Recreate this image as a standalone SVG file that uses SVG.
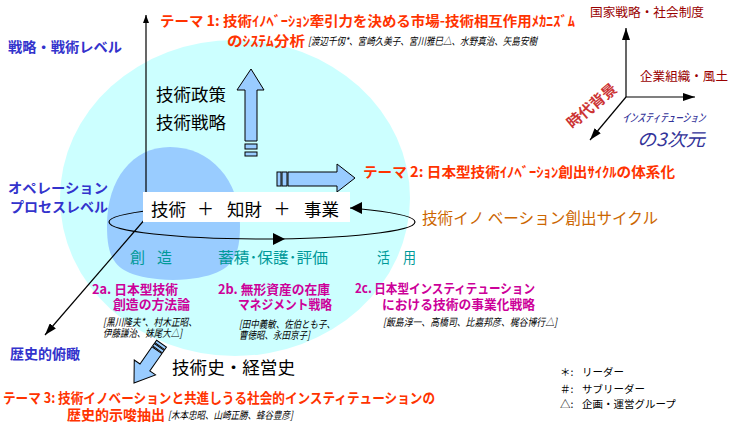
<svg xmlns="http://www.w3.org/2000/svg" width="733" height="431" viewBox="0 0 733 431">
<style>
text{font-family:"Noto Sans CJK JP","Noto Sans",sans-serif}
.red{fill:#FF3300;font-weight:bold;font-size:14px}
.mag{fill:#CC0099;font-size:13px;font-weight:bold}
.nm{fill:#000;font-size:10.5px;font-style:italic}
.teal{fill:#009999;font-size:15px}
.blu{fill:#3333CC;font-weight:bold;font-size:14px}
.dr{fill:#990000;font-size:12.5px}
.blk{fill:#000;font-size:17px}
.lg{fill:#000;font-size:10.5px}
.ln{stroke:#000;stroke-width:1.2;fill:none}
.barrow{fill:#99CCFF;stroke:#000;stroke-width:1}
</style>
<defs>
<marker id="ah" viewBox="0 0 12 8" refX="12" refY="4" markerWidth="12" markerHeight="8" orient="auto" markerUnits="userSpaceOnUse"><path d="M0,0 L12,4 L0,8 z" fill="#000"/></marker>
<marker id="ahs" viewBox="0 0 8 6" refX="8" refY="3" markerWidth="8" markerHeight="6" orient="auto" markerUnits="userSpaceOnUse"><path d="M0,0 L8,3 L0,6 z" fill="#000"/></marker>
</defs>
<rect width="733" height="431" fill="#fff"/>
<g id="background">
<ellipse cx="235" cy="198" rx="175" ry="158" fill="#CCFFFF"/>
<path d="M170 147 C210 147 240 180 240 225 C240 260 232 278 173 280 C115 278 107 262 107 225 C107 180 132 147 170 147 Z" fill="#99CCFF"/>
</g>
<g id="connectors">
<line class="ln" x1="146" y1="192" x2="146" y2="15" marker-end="url(#ahs)"/>
<line class="ln" x1="146" y1="218" x2="45" y2="335" stroke-width="1" marker-end="url(#ah)"/>
<ellipse class="ln" cx="262" cy="222" rx="153" ry="17"/>
<polygon points="350,208 362,202 362,214" fill="#000"/>
<polygon points="285,239 273,233 273,245" fill="#000"/>
<line class="ln" x1="626" y1="97" x2="626" y2="28" marker-end="url(#ah)"/>
<line class="ln" x1="626" y1="97" x2="695" y2="97" marker-end="url(#ah)"/>
<line class="ln" x1="626" y1="97" x2="590" y2="140" marker-end="url(#ah)"/>
</g>
<g id="arrow-up">
<polygon class="barrow" points="251,69 264,90 257,90 257,141 245,141 245,90 237,90"/>
<rect class="barrow" x="245" y="144" width="12" height="5"/>
<rect class="barrow" x="245" y="152" width="12" height="4"/>
</g>
<g id="arrow-right">
<polygon class="barrow" points="355,178 337,164 337,172 288,172 288,186 337,186 337,192"/>
<rect class="barrow" x="277" y="172" width="4" height="14"/>
<rect class="barrow" x="282" y="172" width="5" height="14"/>
</g>
<g id="arrow-history" transform="translate(134,383) rotate(35)">
<polygon class="barrow" points="0,0 13,-19 6,-19 6,-40 -6,-40 -6,-19 -13,-19"/>
<rect class="barrow" x="-6" y="-44" width="12" height="3"/>
<rect class="barrow" x="-6" y="-48" width="12" height="3"/>
</g>
<g id="core">
<rect x="143" y="192" width="207" height="30" fill="#fff"/>
<text class="blk" x="151" y="216" font-size="17.5" textLength="35" lengthAdjust="spacingAndGlyphs">技術</text>
<text class="blk" x="205.5" y="215" text-anchor="middle">＋</text>
<text class="blk" x="227" y="216" font-size="17.5" textLength="35" lengthAdjust="spacingAndGlyphs">知財</text>
<text class="blk" x="282" y="215" text-anchor="middle">＋</text>
<text class="blk" x="304" y="216" font-size="17.5" textLength="35" lengthAdjust="spacingAndGlyphs">事業</text>
</g>
<g id="policy">
<text class="blk" x="156" y="101" textLength="70" lengthAdjust="spacingAndGlyphs">技術政策</text>
<text class="blk" x="156" y="129" textLength="70" lengthAdjust="spacingAndGlyphs">技術戦略</text>
</g>
<g id="phases">
<text class="teal" x="130" y="263" textLength="42" lengthAdjust="spacing">創　造</text>
<text class="teal" x="218" y="263" textLength="110" lengthAdjust="spacingAndGlyphs">蓄積･保護･評価</text>
<text class="teal" x="377" y="263" textLength="39" lengthAdjust="spacingAndGlyphs">活　用</text>
</g>
<g id="cycle-label">
<text x="422" y="224" fill="#CC6600" font-size="15.5" textLength="236" lengthAdjust="spacingAndGlyphs">技術イノ ベーション創出サイクル</text>
</g>
<g id="theme1">
<text class="red" x="160" y="26" textLength="415" lengthAdjust="spacingAndGlyphs">テーマ 1:  技術ｲﾉﾍﾞｰｼｮﾝ牽引力を決める市場-技術相互作用ﾒｶﾆｽﾞﾑ</text>
<text class="red" x="227" y="46" font-size="15" textLength="78" lengthAdjust="spacingAndGlyphs">のｼｽﾃﾑ分析</text>
<text class="nm" x="308" y="45" textLength="229" lengthAdjust="spacingAndGlyphs">[渡辺千仭*、宮崎久美子、宮川雅巳△、水野真治、矢島安樹</text>
</g>
<g id="theme2">
<text class="red" x="363" y="177" textLength="312" lengthAdjust="spacingAndGlyphs">テーマ 2: 日本型技術ｲﾉﾍﾞｰｼｮﾝ創出ｻｲｸﾙの体系化</text>
</g>
<g id="theme3">
<text class="red" x="3" y="403" textLength="432" lengthAdjust="spacingAndGlyphs">テーマ 3: 技術イノベーションと共進しうる社会的インスティテューションの</text>
<text class="red" x="67" y="420" textLength="98" lengthAdjust="spacingAndGlyphs">歴史的示唆抽出</text>
<text class="nm" x="168" y="419" textLength="125" lengthAdjust="spacingAndGlyphs">[木本忠昭、山崎正勝、蜂谷豊彦]</text>
</g>
<g id="theme2a">
<text class="mag" x="92" y="294" textLength="86" lengthAdjust="spacingAndGlyphs">2a. 日本型技術</text>
<text class="mag" x="113" y="309" textLength="77" lengthAdjust="spacingAndGlyphs">創造の方法論</text>
<text class="nm" x="103" y="326" textLength="94" lengthAdjust="spacingAndGlyphs">[黒川隆夫*、村木正昭、</text>
<text class="nm" x="103" y="337" textLength="79" lengthAdjust="spacingAndGlyphs">伊藤謙治、妹尾大△]</text>
</g>
<g id="theme2b">
<text class="mag" x="218" y="294" textLength="112" lengthAdjust="spacingAndGlyphs">2b. 無形資産の在庫</text>
<text class="mag" x="238" y="309" textLength="94" lengthAdjust="spacingAndGlyphs">マネジメント戦略</text>
<text class="nm" x="239" y="328" textLength="96" lengthAdjust="spacingAndGlyphs">[田中義敏、佐伯とも子、</text>
<text class="nm" x="239" y="339" textLength="71" lengthAdjust="spacingAndGlyphs">曹徳昭、永田京子]</text>
</g>
<g id="theme2c">
<text class="mag" x="355" y="293" textLength="180" lengthAdjust="spacingAndGlyphs">2c. 日本型インスティテューション</text>
<text class="mag" x="382" y="309" textLength="153" lengthAdjust="spacingAndGlyphs">における技術の事業化戦略</text>
<text class="nm" x="383" y="326" textLength="174" lengthAdjust="spacingAndGlyphs">[飯島淳一、高橋司、比嘉邦彦、梶谷博行△]</text>
</g>
<g id="history">
<text class="blk" x="172" y="374" font-size="17.5" textLength="123" lengthAdjust="spacingAndGlyphs">技術史・経営史</text>
</g>
<g id="levels">
<text class="blu" x="8" y="52" textLength="114" lengthAdjust="spacingAndGlyphs">戦略・戦術レベル</text>
<text class="blu" x="8" y="193" textLength="100" lengthAdjust="spacingAndGlyphs">オペレーション</text>
<text class="blu" x="10" y="212" textLength="98" lengthAdjust="spacingAndGlyphs">プロセスレベル</text>
<text class="blu" x="10" y="359" textLength="70" lengthAdjust="spacingAndGlyphs">歴史的俯瞰</text>
</g>
<g id="dimensions">
<text class="dr" x="590" y="17" textLength="114" lengthAdjust="spacingAndGlyphs">国家戦略・社会制度</text>
<text class="dr" x="640" y="81" textLength="88" lengthAdjust="spacingAndGlyphs">企業組織・風土</text>
<text x="591" y="105" fill="#CC3333" font-size="15" font-weight="bold" text-anchor="middle" dominant-baseline="central" transform="rotate(-40 591 105)">時代背景</text>
<text x="622" y="122" fill="#333399" font-size="12" font-style="italic" textLength="83" lengthAdjust="spacingAndGlyphs">ｲﾝｽﾃｨﾃｭｰｼｮﾝ</text>
<text x="637" y="146" fill="#333399" font-size="18" font-style="italic" textLength="68" lengthAdjust="spacingAndGlyphs">の3次元</text>
</g>
<g id="legend">
<text class="lg" x="560" y="376">＊:</text><text class="lg" x="582" y="376">リーダー</text>
<text class="lg" x="560" y="393">＃:</text><text class="lg" x="582" y="393">サブリーダー</text>
<text class="lg" x="560" y="408">△:</text><text class="lg" x="582" y="408">企画・運営グループ</text>
</g>
</svg>
